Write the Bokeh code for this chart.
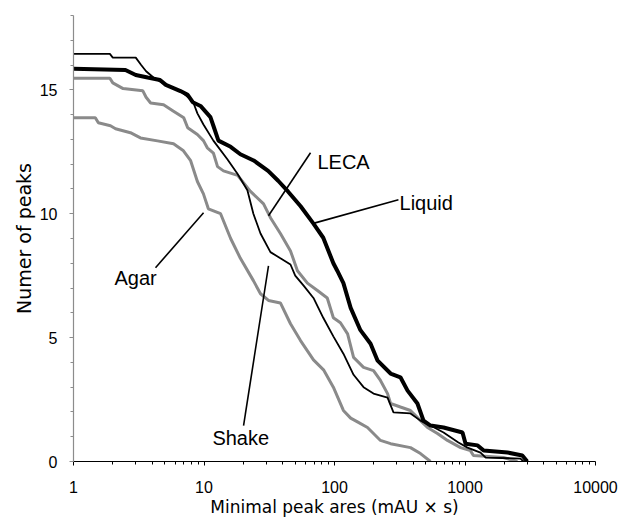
from bokeh.plotting import figure
from bokeh.models import FixedTicker, ColumnDataSource
from bokeh.core.properties import value
from bokeh.embed import file_html
from bokeh.resources import INLINE

# ---- data (cumulative number of peaks vs minimal peak area) ----
liquid_x = [1, 2.5, 3.0, 3.7, 4.6, 5.1, 6.6, 7.5, 8.2, 9.4, 11.2, 11.8, 12.9, 16, 19, 24, 31, 37, 44, 55,
            69, 82, 98, 105, 117, 133, 158, 189, 214, 269, 320, 363, 432, 481, 544, 685, 957, 1010, 1250, 1390,
            2120, 2750, 3000]
liquid_y = [15.85, 15.8, 15.6, 15.5, 15.4, 15.2, 14.95, 14.8, 14.5, 14.35, 13.9, 13.55, 12.95, 12.7, 12.4, 12.15,
            11.73, 11.33, 10.9, 10.3, 9.6, 9.03, 8.0, 7.7, 7.2, 6.2, 5.3, 4.75, 4.07, 3.55, 3.4, 2.86, 2.34, 1.65,
            1.45, 1.37, 1.17, 0.72, 0.65, 0.44, 0.36, 0.24, 0.0]

shake_x = [1, 1.9, 2.0, 3.0, 3.3, 3.6, 4.1, 5.1, 6.6, 8.2, 8.9, 9.9, 11.8, 15.1, 18.1, 21.5, 23.9, 27.1, 32.3, 38.5,
           46, 50, 58, 69, 82, 98, 117, 140, 167, 199, 255, 283, 382, 456, 544, 685, 890, 1045, 1315, 1440,
           2660, 2810]
shake_y = [16.45, 16.45, 16.3, 16.3, 16.0, 15.75, 15.5, 15.2, 14.95, 14.55, 14.05, 13.6, 12.95, 12.2, 11.6, 10.95,
           10.0, 9.2, 8.45, 8.2, 7.95, 7.5, 7.1, 6.6, 5.8, 5.05, 4.35, 3.5, 3.0, 2.74, 2.58, 1.98, 1.94, 1.65, 1.45,
           1.17, 0.77, 0.56, 0.36, 0.16, 0.12, 0.0]

leca_x = [1, 1.9, 2.0, 2.4, 3.4, 3.6, 3.9, 4.9, 5.8, 7.0, 7.5, 8.9, 9.9, 10.6, 11.8, 12.7, 14.1, 18.1, 22.7, 28.6,
          32.3, 38.5, 46, 52, 62, 74, 88, 98, 111, 126, 140, 167, 199, 225, 255, 269, 320, 382, 456, 516,
          615, 734, 925, 1100, 1160, 1970, 2520]
leca_y = [15.47, 15.47, 15.28, 15.05, 14.96, 14.7, 14.47, 14.4, 14.15, 13.87, 13.47, 13.2, 12.95, 12.66, 12.45, 11.9,
          11.73, 11.55, 10.9, 10.4, 9.84, 9.2, 8.5, 7.7, 7.2, 6.9, 6.6, 5.8, 5.6, 5.15, 4.2, 3.8, 3.67, 3.27, 2.74,
          2.34, 2.2, 2.06, 1.65, 1.37, 1.13, 0.85, 0.56, 0.44, 0.24, 0.16, 0.0]

agar_x = [1, 1.47, 1.55, 1.92, 2.1, 2.73, 3.26, 4.4, 5.84, 6.96, 7.9, 8.9, 9.9, 10.8, 13.4, 16, 19, 23.9, 27.1, 31.2,
          38.5, 46, 54.9, 69, 82.4, 98, 117, 133, 150, 179, 225, 269, 382, 456, 544]
agar_y = [13.87, 13.87, 13.67, 13.55, 13.43, 13.27, 13.06, 12.94, 12.82, 12.54, 12.14, 11.3, 10.8, 10.2, 10.0, 9.0,
          8.2, 7.3, 6.77, 6.5, 6.4, 5.56, 4.88, 4.1, 3.7, 3.0, 2.06, 1.75, 1.6, 1.37, 0.85, 0.72, 0.56, 0.32, 0.0]

# ---- tick values ----
x_major_ticks = [1, 10, 100, 1000, 10000]
x_tick_labels = ["1", "10", "100", "1000", "10000"]
y_major_ticks = [0, 5, 10, 15]

# ---- callout labels ----
label_names = ["LECA", "Liquid", "Agar", "Shake"]
label_x = [74, 315, 2.06, 11.6]
label_y = [12.1, 10.44, 7.42, 0.93]
pointer_x0 = [65.5, 309, 4.25, 20.1]
pointer_y0 = [12.46, 10.56, 7.82, 1.45]
pointer_x1 = [31.2, 67.8, 9.92, 31.2]
pointer_y1 = [9.92, 9.6, 10.04, 7.9]

p = figure(width=633, height=519, x_axis_type="log", x_range=(1, 10000), y_range=(0, 18),
           output_backend="svg", toolbar_location=None,
           min_border_left=73, min_border_right=38, min_border_top=15, min_border_bottom=58)
p.outline_line_color = None
p.grid.visible = False
p.background_fill_color = "white"
p.border_fill_color = "white"

# series
p.line(agar_x, agar_y, line_color="#8a8a8a", line_width=3)
p.line(leca_x, leca_y, line_color="#8a8a8a", line_width=3)
p.line(shake_x, shake_y, line_color="black", line_width=1.8)
p.line(liquid_x, liquid_y, line_color="black", line_width=4)

# callouts
p.segment(x0=pointer_x0, y0=pointer_y0, x1=pointer_x1, y1=pointer_y1, line_color="black", line_width=1.6)
lab_src = ColumnDataSource(dict(x=label_x, y=label_y, t=label_names))
p.text(x="x", y="y", text="t", source=lab_src, text_font=value("Liberation Sans"),
       text_font_size=value("20px"), text_color="black", text_align="left", text_baseline="alphabetic")

# x axis
xax = p.xaxis[0]
minor = [k * 10 ** d for d in range(4) for k in range(2, 10)]
xax.ticker = FixedTicker(ticks=x_major_ticks, minor_ticks=minor)
xax.major_label_overrides = {t: s for t, s in zip(x_major_ticks, x_tick_labels)}
xax.axis_label = "Minimal peak ares (mAU × s)"
xax.axis_line_color = "black"
xax.major_tick_line_color = "black"
xax.minor_tick_line_color = "black"
xax.major_tick_in = 0
xax.major_tick_out = 4
xax.minor_tick_in = 0
xax.minor_tick_out = 3
xax.major_label_standoff = 15
xax.axis_label_standoff = 1

# y axis
yax = p.yaxis[0]
yax.ticker = FixedTicker(ticks=y_major_ticks, minor_ticks=list(range(0, 19)))
yax.axis_label = "Numer of peaks"
yax.axis_line_color = "#8c8c8c"
yax.major_tick_line_color = "#8c8c8c"
yax.minor_tick_line_color = "#8c8c8c"
yax.major_tick_in = 0
yax.major_tick_out = 4
yax.minor_tick_in = 0
yax.minor_tick_out = 3
yax.major_label_standoff = 12
yax.axis_label_standoff = 2

for ax in (xax, yax):
    ax.major_label_text_font = "Liberation Sans"
    ax.major_label_text_font_size = "16px"
    ax.major_label_text_color = "black"
    ax.axis_label_text_font = "DejaVu Sans"
    ax.axis_label_text_font_style = "normal"
    ax.axis_label_text_color = "black"
    ax.axis_line_width = 1.2
xax.axis_label_text_font_size = "17px"
yax.axis_label_text_font_size = "19px"

open("out.html", "w").write(file_html(p, INLINE))
